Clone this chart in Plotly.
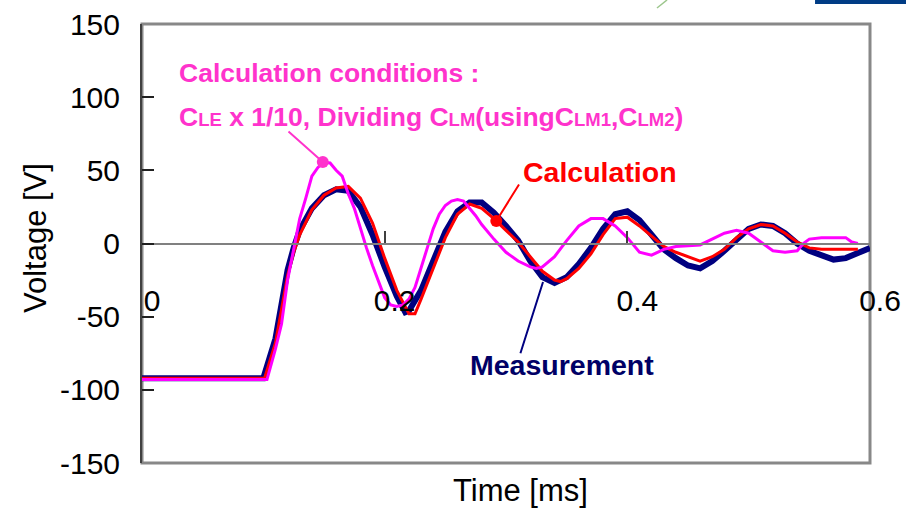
import plotly.graph_objects as go

# Time axis [ms] and voltage traces [V]
t_meas = [0.00, 0.10, 0.11, 0.12, 0.125, 0.13, 0.14, 0.15, 0.16, 0.17, 0.18, 0.19, 0.20,
          0.21, 0.217, 0.22, 0.23, 0.24, 0.25, 0.26, 0.27, 0.28, 0.29, 0.30, 0.31, 0.32,
          0.33, 0.34, 0.35, 0.36, 0.37, 0.38, 0.39, 0.40, 0.41, 0.42, 0.43, 0.44, 0.45,
          0.46, 0.47, 0.48, 0.49, 0.50, 0.51, 0.52, 0.53, 0.54, 0.55, 0.56, 0.57, 0.58,
          0.59, 0.60]
v_meas = [-92, -92, -65, -18, -3, 9, 24, 33, 37, 36, 25, 6, -16,
          -36, -47, -46, -32, -12, 8, 22, 28, 28, 21, 12, 2, -12,
          -23, -27, -23, -14, -3, 10, 20, 22, 16, 6, -4, -10, -15,
          -17, -12, -5, 3, 10, 13, 12, 7, 0, -5, -8, -11, -10,
          -7, -3]

t_calc = [0.00, 0.101, 0.11, 0.12, 0.125, 0.13, 0.14, 0.15, 0.16, 0.17, 0.18, 0.19, 0.20,
          0.21, 0.22, 0.225, 0.23, 0.24, 0.25, 0.26, 0.27, 0.28, 0.29, 0.30, 0.31, 0.32,
          0.33, 0.34, 0.345, 0.35, 0.36, 0.37, 0.38, 0.39, 0.40, 0.41, 0.42, 0.43, 0.44,
          0.45, 0.46, 0.47, 0.48, 0.49, 0.50, 0.51, 0.52, 0.53, 0.54, 0.55, 0.56, 0.59]
v_calc = [-92, -92, -68, -22, -6, 6, 23, 33, 38, 39, 31, 14, -10,
          -32, -48, -48, -38, -17, 4, 20, 27, 24, 17, 9, 1, -9,
          -19, -25, -26, -24, -17, -7, 6, 17, 18, 12, 5, -2, -6,
          -9, -12, -9, -4, 4, 10, 13, 12, 7, 1, -3, -4, -4]

t_cond = [0.00, 0.103, 0.11, 0.115, 0.12, 0.125, 0.13, 0.135, 0.14, 0.145, 0.15, 0.155,
          0.16, 0.165, 0.17, 0.175, 0.18, 0.185, 0.19, 0.195, 0.20, 0.205, 0.21, 0.215,
          0.22, 0.225, 0.23, 0.235, 0.24, 0.245, 0.25, 0.255, 0.26, 0.265, 0.27, 0.275,
          0.28, 0.285, 0.29, 0.30, 0.31, 0.32, 0.325, 0.33, 0.34, 0.35, 0.36, 0.37, 0.38,
          0.39, 0.40, 0.41, 0.42, 0.43, 0.44, 0.46, 0.47, 0.48, 0.49, 0.50, 0.51, 0.52,
          0.53, 0.54, 0.545, 0.55, 0.56, 0.58, 0.585, 0.59]
v_cond = [-93, -93, -72, -55, -25, -4, 17, 31, 46, 52, 55.5, 55,
          50, 46, 34, 24, 10, -3, -15, -26, -37, -42, -43, -42,
          -38, -30, -17, -3, 10, 20, 26, 29, 30, 29, 24, 19,
          13, 8, 3, -6, -12, -16, -17, -16, -9, 2, 12, 17, 17,
          12, 4, -6, -8, -4, -2, -1, 3, 7, 9, 7, 1, -5,
          -6, -5, 0, 3, 4, 4, 1, 0]

y_ticks = [-150, -100, -50, 0, 50, 100, 150]
y_tick_text = ["-150", "-100", "-50", "0", "50", "100", "150"]
x_ticks = [0, 0.2, 0.4, 0.6]
x_tick_text = ["0", "0.2", "0.4", "0.6"]

NAVY = "#000080"
RED = "#FF0000"
MAGENTA = "#FF00FF"
PINK = "#FF33CC"
FONT = "Liberation Sans, Arial, sans-serif"

fig = go.Figure()
fig.add_trace(go.Scatter(x=t_meas, y=v_meas, mode="lines", name="Measurement",
                         line=dict(color=NAVY, width=6)))
fig.add_trace(go.Scatter(x=t_calc, y=v_calc, mode="lines", name="Calculation",
                         line=dict(color=RED, width=3)))
fig.add_trace(go.Scatter(x=t_cond, y=v_cond, mode="lines", name="Calculation conditions",
                         line=dict(color=MAGENTA, width=3)))

# Frame around the plotting area
fig.add_shape(type="rect", xref="paper", yref="paper", x0=0, x1=1, y0=0, y1=1,
              line=dict(color="#888888", width=3), layer="below")

# Slide decorations at the top edge
fig.add_shape(type="line", xref="paper", yref="paper", x0=0.7074, y0=1.0364, x1=0.7212, y1=1.0547,
              line=dict(color="#9CC68C", width=1.5))
fig.add_shape(type="rect", xref="paper", yref="paper", x0=0.9245, x1=1.06, y0=1.0456, y1=1.06,
              line=dict(width=0), fillcolor="#003C85")

ann_font = dict(family=FONT, size=26.5, color=PINK)
small = "<span style='font-size:18.5px'>"
fig.add_annotation(xref="paper", yref="paper", x=(177 - 142) / 728, y=(463 - 73) / 439,
                   xanchor="left", yanchor="middle", showarrow=False,
                   text="<b>Calculation conditions :</b>", font=ann_font)
fig.add_annotation(xref="paper", yref="paper", x=(177 - 142) / 728, y=(463 - 117) / 439,
                   xanchor="left", yanchor="middle", showarrow=False,
                   text=("<b>C" + small + "LE</span> x 1/10, Dividing C" + small + "LM</span>"
                         "(usingC" + small + "LM1</span>,C" + small + "LM2</span>)</b>"),
                   font=ann_font)
fig.add_annotation(xref="paper", yref="paper", x=(521 - 142) / 728, y=(463 - 172) / 439,
                   xanchor="left", yanchor="middle", showarrow=False,
                   text="<b>Calculation</b>", font=dict(family=FONT, size=28.5, color=RED))
fig.add_annotation(xref="paper", yref="paper", x=(468 - 142) / 728, y=(463 - 365) / 439,
                   xanchor="left", yanchor="middle", showarrow=False,
                   text="<b>Measurement</b>", font=dict(family=FONT, size=28.5, color="#000066"))

# Leader lines from the labels to the traces
fig.add_annotation(x=0.149, y=55.7, ax=0.1195, ay=77.5, axref="x", ayref="y",
                   text="", showarrow=True, arrowhead=6, arrowsize=1.5, arrowwidth=2,
                   arrowcolor=PINK)
fig.add_annotation(x=0.292, y=15.4, ax=0.3115, ay=41.3, axref="x", ayref="y",
                   text="", showarrow=True, arrowhead=6, arrowsize=1.5, arrowwidth=2,
                   arrowcolor=RED)
fig.add_annotation(x=0.3305, y=-26.3, ax=0.3115, ay=-76, axref="x", ayref="y",
                   text="", showarrow=True, arrowhead=0, arrowwidth=2,
                   arrowcolor=NAVY)

# Axis titles
fig.add_annotation(xref="paper", yref="paper", x=(36 - 142) / 728, y=(463 - 238) / 439,
                   xanchor="center", yanchor="middle",
                   text="Voltage [V]", textangle=-90, showarrow=False,
                   font=dict(family=FONT, size=31, color="black"))
fig.add_annotation(xref="paper", yref="paper", x=(520 - 142) / 728, y=(463 - 490) / 439,
                   xanchor="center", yanchor="middle",
                   text="Time [ms]", showarrow=False,
                   font=dict(family=FONT, size=31, color="black"))

fig.update_layout(
    width=906, height=511,
    margin=dict(l=142, r=36, t=24, b=48),
    paper_bgcolor="white", plot_bgcolor="white",
    showlegend=False,
    font=dict(family=FONT, size=30, color="black"),
    xaxis=dict(range=[0, 0.6], tickvals=x_ticks, ticktext=x_tick_text,
               anchor="free", position=0.5, showline=True, linecolor="#808080", linewidth=2,
               ticks="inside", ticklen=12, tickcolor="#404040", tickwidth=1.5,
               showgrid=False, zeroline=False, automargin=False,
               ticklabelstandoff=30, ticklabelshift=10,
               tickfont=dict(family=FONT, size=30, color="black")),
    yaxis=dict(range=[-150, 150], tickvals=y_ticks, ticktext=y_tick_text,
               showline=True, linecolor="#404040", linewidth=2,
               ticks="inside", ticklen=12, tickcolor="#202020", tickwidth=1.5,
               showgrid=False, zeroline=False, automargin=False, ticklabelstandoff=14,
               tickfont=dict(family=FONT, size=30, color="black")),
)

fig.write_html("out.html")
